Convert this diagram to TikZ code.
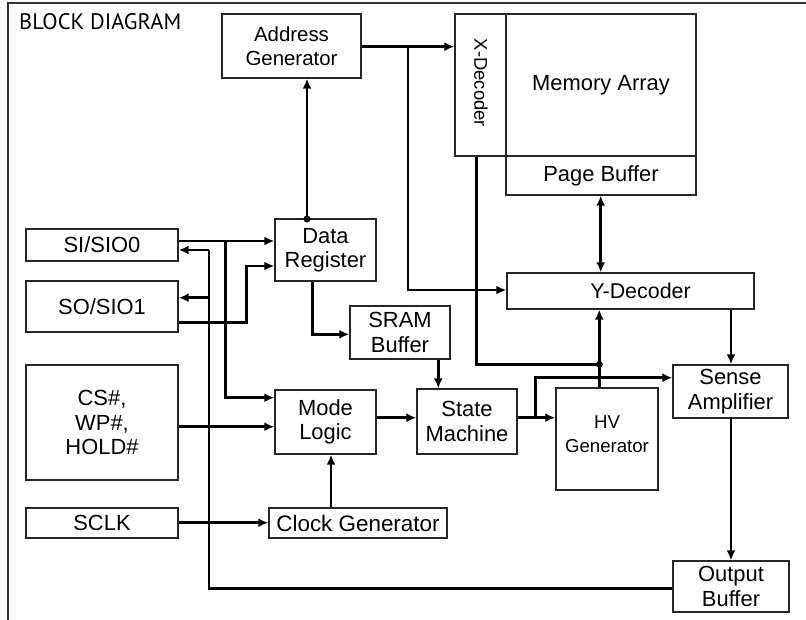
\documentclass[tikz,border=0pt]{standalone}
\usepackage{fontspec}
\setmainfont{Liberation Sans}
\newfontfamily\titlefont{PT Sans}
\usetikzlibrary{arrows.meta}
\begin{document}
\begin{tikzpicture}[x=1bp,y=-1bp,
  box/.style={draw=black!85, line width=1.4bp, align=center, inner sep=0pt,
    font=\fontsize{22}{24.5}\selectfont},
  conn/.style={line width=2.7bp, black},
  arr/.style={conn, -{Latex[length=10bp,width=9bp]}},
  darr/.style={conn, {Latex[length=10bp,width=9bp]}-{Latex[length=10bp,width=9bp]}},
  dot/.style={fill=black}
]
\useasboundingbox (0,0) rectangle (806,620);
% frame
\draw[line width=1.6bp, black!80] (8,620) -- (8,3) -- (806,3);
\node[anchor=base west, font=\titlefont\fontsize{22.5}{24}\selectfont, inner sep=0pt] (title) at (19,29.5) {BLOCK DIAGRAM};

% boxes
\node[box, minimum width=139bp, minimum height=64bp, font=\fontsize{20.5}{23.5}\selectfont] (addr) at (291.5,46) {Address\\Generator};
\node[box, minimum width=51bp, minimum height=142bp] (xdec) at (480.5,85) {};
\node[rotate=-90, font=\fontsize{18.5}{22}\selectfont, inner sep=0pt] (xdect) at (481,83) {X-Decoder};
\node[box, minimum width=190bp, minimum height=142bp] (mem) at (601,85) {Memory Array};
\node[box, minimum width=190bp, minimum height=39bp] (page) at (601,175.5) {Page Buffer};
\node[box, minimum width=152bp, minimum height=32bp] (si) at (102,245) {SI/SIO0};
\node[box, minimum width=152bp, minimum height=51bp] (so) at (102,306.5) {SO/SIO1};
\node[box, minimum width=152bp, minimum height=115bp] (cs) at (102,422.5) {CS\#,\\WP\#,\\HOLD\#};
\node[box, minimum width=152bp, minimum height=30bp] (sclk) at (102,523) {SCLK};
\node[box, minimum width=101bp, minimum height=62bp] (dreg) at (325.5,250) {Data\\Register};
\node[box, minimum width=100bp, minimum height=53bp] (sram) at (400,332.5) {SRAM\\Buffer};
\node[box, minimum width=247bp, minimum height=36bp, font=\fontsize{21.5}{24}\selectfont] (ydec) at (630.5,291) {\hspace*{20bp}Y-Decoder};
\node[box, minimum width=101bp, minimum height=64bp] (mode) at (325.5,422) {Mode\\Logic};
\node[box, minimum width=100bp, minimum height=65bp] (state) at (467,421.5) {State\\Machine};
\node[box, minimum width=102bp, minimum height=102bp] (hv) at (607,439) {};
\node[align=center, inner sep=0pt, font=\fontsize{18.7}{24}\selectfont] (hvt) at (607,434) {HV\\Generator};
\node[box, minimum width=115bp, minimum height=53bp] (sense) at (730.5,391.5) {Sense\\Amplifier};
\node[box, minimum width=178bp, minimum height=30bp, font=\fontsize{22.5}{24}\selectfont] (clock) at (358,523) {Clock Generator};
\node[box, minimum width=116bp, minimum height=51bp] (out) at (731,586.5) {Output\\Buffer};

% named points
\coordinate (dt) at (307,219);
\coordinate (jdot) at (599.3,364.3);

% connectors
\draw[arr] (addr.east |- 0,46.7) -- (xdec.west |- 0,46.7);
\draw[arr] (408,46.7) -- (408,290) -- (ydec.west |- 0,290);
\draw[arr] (dt) -- (dt |- addr.south);
\fill[dot] (dt) circle (3.5);
\draw[arr] (si.east |- 0,241) -- (dreg.west |- 0,241);
\draw[arr] (225.7,241) -- (225.7,397.7) -- (mode.west |- 0,397.7);
\draw[conn] (out.west |- 0,588.3) -- (209,588.3) -- (209,250);
\draw[arr] (209,250) -- (si.east |- 0,250);
\draw[arr] (209,297.7) -- (so.east |- 0,297.7);
\draw[arr] (so.east |- 0,322.3) -- (246.7,322.3) -- (246.7,266) -- (dreg.west |- 0,266);
\draw[arr] (dreg.south -| 312.3,0) -- (312.3,334.3) -- (sram.west |- 0,334.3);
\draw[arr] (sram.south -| 438.3,0) -- (state.north -| 438.3,0);
\draw[arr] (cs.east |- 0,426.7) -- (mode.west |- 0,426.7);
\draw[arr] (sclk.east |- 0,522.7) -- (clock.west |- 0,522.7);
\draw[arr] (clock.north -| 331,0) -- (mode.south -| 331,0);
\draw[arr] (mode.east |- 0,417.7) -- (state.west |- 0,417.7);
\draw[arr] (state.east |- 0,417.7) -- (hv.west |- 0,417.7);
\draw[arr] (535.7,417.7) -- (535.7,377.7) -- (sense.west |- 0,377.7);
\draw[arr] (hv.north -| jdot) -- (ydec.south -| jdot);
\draw[conn] (xdec.south -| 476.7,0) -- (476.7,364.3) -- (jdot);
\fill[dot] (jdot) circle (3.5);
\draw[darr] (page.south -| 600.7,0) -- (ydec.north -| 600.7,0);
\draw[arr] (ydec.south -| 731,0) -- (sense.north -| 731,0);
\draw[arr] (sense.south -| 731,0) -- (out.north -| 731,0);
\end{tikzpicture}
\end{document}
